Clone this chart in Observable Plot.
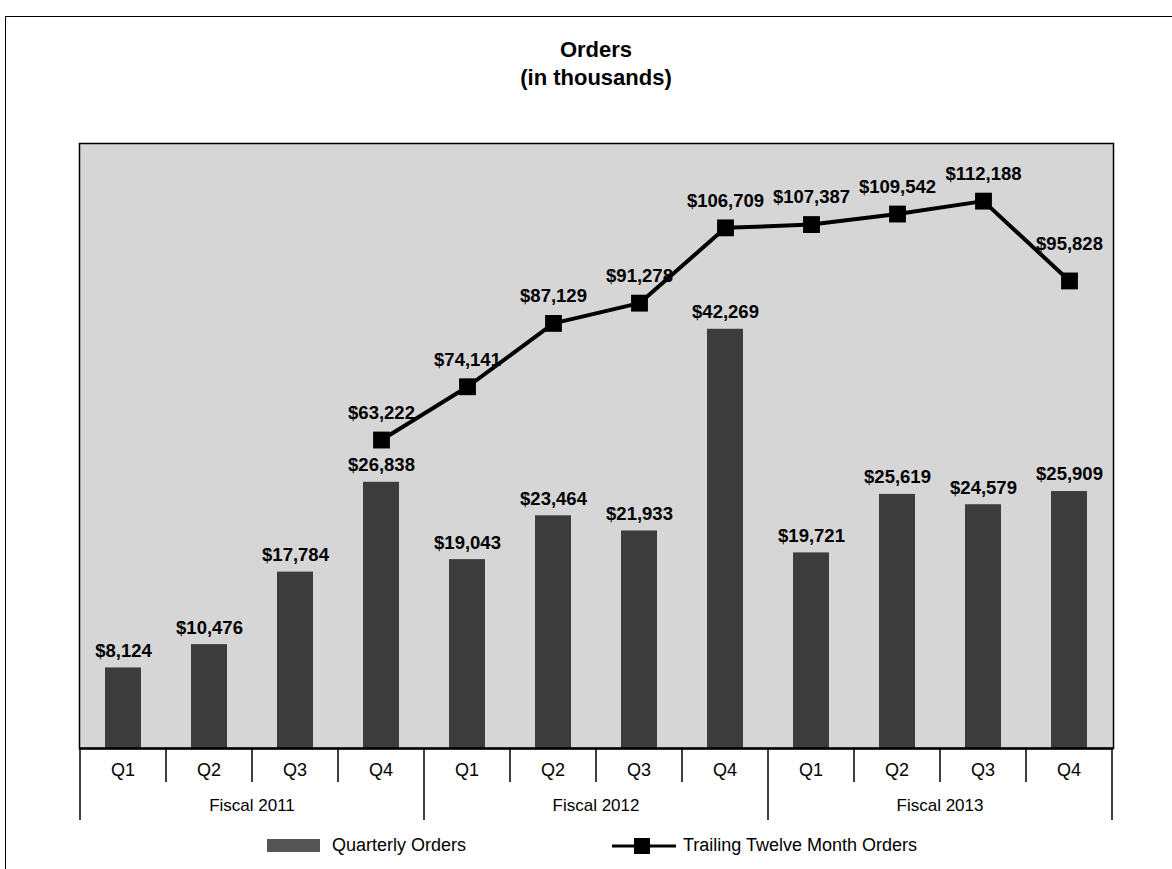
<!DOCTYPE html>
<html>
<head>
<meta charset="utf-8">
<script src="https://cdn.jsdelivr.net/npm/d3@7"></script>
<script src="https://cdn.jsdelivr.net/npm/@observablehq/plot@0.6"></script>
<style>
  body { margin: 0; background: #fff; font-family: "Liberation Sans", Arial, sans-serif; }
  #page { position: relative; width: 1172px; height: 869px; overflow: hidden; background: #fff; }
  #frameTop { position: absolute; left: 5px; top: 16px; width: 1167px; height: 0; border-top: 1.5px solid #000; }
  #frameLeft { position: absolute; left: 5px; top: 16px; width: 0; height: 860px; border-left: 1.5px solid #000; }
  #title { position: absolute; left: 0; width: 1192px; top: 36px; text-align: center; font-weight: bold; font-size: 22px; line-height: 28px; color: #000; }
  #chart { position: absolute; left: 0; top: 120px; }
  .leg { position: absolute; font-size: 18px; color: #000; line-height: 20px; white-space: nowrap; }
</style>
</head>
<body>
<div id="page">
  <div id="frameTop"></div>
  <div id="frameLeft"></div>
  <div id="title">Orders<br>(in thousands)</div>
  <div id="chart"></div>
  <div id="legend"></div>
</div>
<script>
// ---- data ----
const quarters = ["Q1","Q2","Q3","Q4","Q1","Q2","Q3","Q4","Q1","Q2","Q3","Q4"];
const fiscalYears = ["Fiscal 2011","Fiscal 2012","Fiscal 2013"];
const quarterlyOrders = [8124, 10476, 17784, 26838, 19043, 23464, 21933, 42269, 19721, 25619, 24579, 25909];
const ttmOrders = [null, null, null, 63222, 74141, 87129, 91278, 106709, 107387, 109542, 112188, 95828];
const seriesNames = ["Quarterly Orders", "Trailing Twelve Month Orders"];

// secondary axis: bars on left domain, TTM line on right domain
const BAR_MAX = 61000;
const TTM_MAX = 124000;
const toBar = v => v * BAR_MAX / TTM_MAX;
const fmt = v => "$" + d3.format(",")(v);

const rows = quarterlyOrders.map((v, i) => ({
  key: fiscalYears[Math.floor(i / 4)] + " " + quarters[i],
  quarter: quarters[i],
  year: fiscalYears[Math.floor(i / 4)],
  orders: v,
  ttm: ttmOrders[i]
}));
const ttmRows = rows.filter(d => d.ttm != null);
const lastKey = ttmRows[ttmRows.length - 1].key;

function axisTable(index, scales, values, dims) {
  const x = scales.x;
  const bw = x.bandwidth();
  const y0 = dims.height - dims.marginBottom;
  const g = d3.create("svg:g");
  rows.forEach((d, i) => {
    const xs = x(d.key);
    const groupEdge = i % 4 === 0;
    g.append("line").attr("x1", xs).attr("x2", xs).attr("y1", y0).attr("y2", y0 + (groupEdge ? 72 : 34))
      .attr("stroke", "#000").attr("stroke-width", 1.5);
    g.append("text").attr("x", xs + bw / 2).attr("y", y0 + 22).attr("text-anchor", "middle")
      .attr("dominant-baseline", "central").attr("font-size", 18).attr("fill", "#000").text(d.quarter);
  });
  const xe = x(rows[rows.length - 1].key) + bw;
  g.append("line").attr("x1", xe).attr("x2", xe).attr("y1", y0).attr("y2", y0 + 72)
    .attr("stroke", "#000").attr("stroke-width", 1.5);
  fiscalYears.forEach((fy, j) => {
    const a = x(rows[j * 4].key), b = x(rows[j * 4 + 3].key) + bw;
    g.append("text").attr("x", (a + b) / 2).attr("y", y0 + 57).attr("text-anchor", "middle")
      .attr("dominant-baseline", "central").attr("font-size", 17).attr("fill", "#000").text(fy);
  });
  return g.node();
}

const chart = Plot.plot({
  width: 1172,
  height: 710,
  marginLeft: 79,
  marginRight: 59,
  marginTop: 23,
  marginBottom: 82,
  style: { fontFamily: "'Liberation Sans', Arial, sans-serif", background: "transparent" },
  x: { domain: rows.map(d => d.key), padding: 0, axis: null },
  y: { domain: [0, BAR_MAX], axis: null },
  marks: [
    Plot.frame({ fill: "#d6d6d6", stroke: null }),
    Plot.barY(rows, { x: "key", y: "orders", fill: "#3c3c3c", insetLeft: 25, insetRight: 25 }),
    Plot.text(rows, { x: "key", y: "orders", text: d => fmt(d.orders), dy: -17, fontWeight: "bold", fontSize: 18.5, fill: "#000" }),
    Plot.line(ttmRows, { x: "key", y: d => toBar(d.ttm), stroke: "#000", strokeWidth: 4 }),
    Plot.dot(ttmRows, { x: "key", y: d => toBar(d.ttm), symbol: "square", r: 9.5, fill: "#000", stroke: null }),
    Plot.text(ttmRows.filter(d => d.key !== lastKey), { x: "key", y: d => toBar(d.ttm), text: d => fmt(d.ttm), dy: -27, fontWeight: "bold", fontSize: 18.5, fill: "#000" }),
    Plot.text(ttmRows.filter(d => d.key === lastKey), { x: "key", y: d => toBar(d.ttm), text: d => fmt(d.ttm), dy: -37, fontWeight: "bold", fontSize: 18.5, fill: "#000" }),
    Plot.frame({ stroke: "#000", strokeWidth: 1.5, fill: "none" }),
    Plot.ruleY([0], { stroke: "#000", strokeWidth: 2.5 }),
    axisTable
  ]
});
document.getElementById("chart").appendChild(chart);

// ---- legend ----
const legend = document.getElementById("legend");
legend.innerHTML = `
  <div style="position:absolute;left:267px;top:839px;width:53px;height:13px;background:#555;"></div>
  <div class="leg" style="left:332px;top:835px;">${seriesNames[0]}</div>
  <svg style="position:absolute;left:608px;top:834px;" width="72" height="24">
    <line x1="4" x2="68" y1="12" y2="12" stroke="#000" stroke-width="3"></line>
    <rect x="26" y="4" width="16" height="16" fill="#000"></rect>
  </svg>
  <div class="leg" style="left:683px;top:835px;">${seriesNames[1]}</div>
`;
</script>
</body>
</html>
